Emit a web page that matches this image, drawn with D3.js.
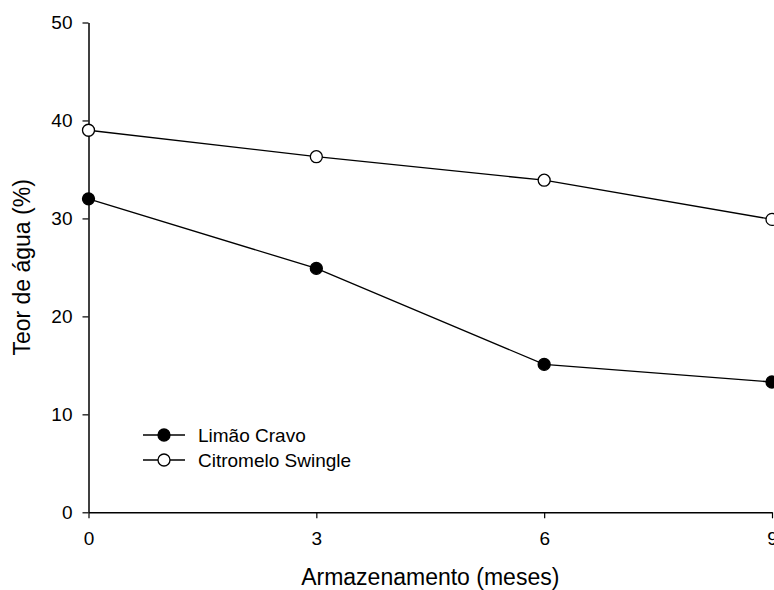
<!DOCTYPE html>
<html>
<head>
<meta charset="utf-8">
<script src="https://cdn.jsdelivr.net/npm/d3@7"></script>
<style>
  body { margin: 0; background: #fff; }
  svg { display: block; font-family: Arial, "Liberation Sans", sans-serif; }
</style>
</head>
<body>
<svg id="chart" width="774" height="590"></svg>
<script>
// Water content of seeds during storage
const months = [0, 3, 6, 9];
const limaoCravo = [32.0, 24.9, 15.1, 13.3];
const citromelo = [39.0, 36.3, 33.9, 29.9];
const seriesNames = ['Limão Cravo', 'Citromelo Swingle'];
const xTicks = [0, 3, 6, 9];
const yTicks = [0, 10, 20, 30, 40, 50];

const svg = d3.select('#chart');

const x = d3.scaleLinear().domain([0, 9]).range([88.5, 772]);
const y = d3.scaleLinear().domain([0, 50]).range([512.3, 22.5]);

// axes
const xAxis = svg.append('g')
  .attr('transform', `translate(0,${y(0)})`)
  .call(d3.axisBottom(x).tickValues(xTicks).tickSizeInner(6).tickSizeOuter(0).tickPadding(10));

const yAxis = svg.append('g')
  .attr('transform', `translate(${x(0)},0)`)
  .call(d3.axisLeft(y).tickValues(yTicks).tickSizeInner(6).tickSizeOuter(0).tickPadding(10));

[xAxis, yAxis].forEach(a => {
  a.select('.domain').attr('stroke', '#000').attr('stroke-width', 1.5);
  a.selectAll('.tick line').attr('stroke', '#000').attr('stroke-width', 1.2);
  a.selectAll('.tick text')
    .attr('fill', '#000')
    .style('font-size', '19px')
    .style('font-family', 'Arial, "Liberation Sans", sans-serif');
});
xAxis.selectAll('.tick text').attr('dy', '0.9em');

// axis titles
svg.append('text')
  .attr('x', (x(0) + x(9)) / 2)
  .attr('y', 585)
  .attr('text-anchor', 'middle')
  .style('font-size', '23px')
  .text('Armazenamento (meses)');

svg.append('text')
  .attr('transform', `translate(30,${(y(0) + y(50)) / 2}) rotate(-90)`)
  .attr('text-anchor', 'middle')
  .style('font-size', '23px')
  .text('Teor de água (%)');

const line = d3.line()
  .x((d, i) => x(months[i]))
  .y(d => y(d));

const series = [
  { name: seriesNames[0], values: limaoCravo, fill: '#000' },
  { name: seriesNames[1], values: citromelo, fill: '#fff' }
];

series.forEach(s => {
  svg.append('path')
    .datum(s.values)
    .attr('d', line)
    .attr('fill', 'none')
    .attr('stroke', '#000')
    .attr('stroke-width', 1.3);

  svg.selectAll(null)
    .data(s.values)
    .enter()
    .append('circle')
    .attr('cx', (d, i) => x(months[i]))
    .attr('cy', d => y(d))
    .attr('r', 6)
    .attr('fill', s.fill)
    .attr('stroke', '#000')
    .attr('stroke-width', 1.3);
});

// legend
const legend = svg.append('g').attr('transform', 'translate(143,435)');
series.forEach((s, i) => {
  const g = legend.append('g').attr('transform', `translate(0,${i * 25})`);
  g.append('line')
    .attr('x1', 0).attr('x2', 42)
    .attr('stroke', '#000').attr('stroke-width', 1.3);
  g.append('circle')
    .attr('cx', 21).attr('r', 6)
    .attr('fill', s.fill).attr('stroke', '#000').attr('stroke-width', 1.3);
  g.append('text')
    .attr('x', 55).attr('dy', '0.35em')
    .style('font-size', '19px')
    .text(s.name);
});
</script>
</body>
</html>
